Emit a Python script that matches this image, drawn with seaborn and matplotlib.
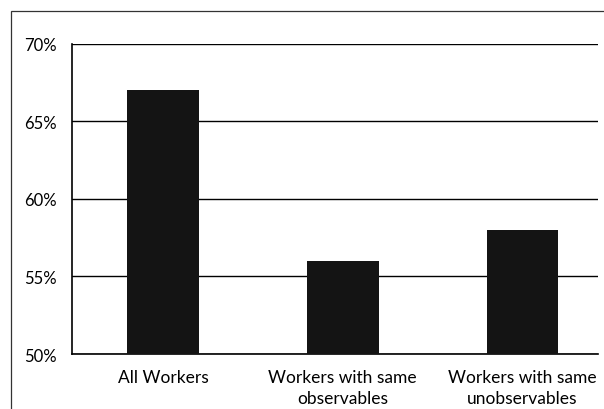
import numpy as np
import pandas as pd
import seaborn as sns
import matplotlib.pyplot as plt
from matplotlib.patches import Rectangle
from matplotlib.ticker import PercentFormatter

# data
categories = ['All Workers', 'Workers with same\nobservables', 'Workers with same\nunobservables']
shares = [0.67, 0.56, 0.58]
y_ticks = [0.50, 0.55, 0.60, 0.65, 0.70]

sns.set_theme(style="white")
plt.rcParams['font.family'] = ['Lato', 'DejaVu Sans']

df = pd.DataFrame({'group': categories, 'share': shares})

fig = plt.figure(figsize=(6.04, 4.10), dpi=100)
ax = fig.add_axes([0.1192, 0.1341, 0.8708, 0.757])

sns.barplot(data=df, x='group', y='share', color='#141414', width=0.40,
            saturation=1, edgecolor='#141414', linewidth=0, ax=ax, zorder=3)

ax.set_ylim(0.50, 0.70)
ax.set_xlim(-0.506, 2.42)
ax.set_yticks(y_ticks)
ax.yaxis.set_major_formatter(PercentFormatter(1.0, decimals=0))
ax.yaxis.grid(True, color='black', linewidth=1.0, zorder=0)
ax.set_axisbelow(True)
ax.set_xlabel('')
ax.set_ylabel('')

for side in ['top', 'right']:
    ax.spines[side].set_visible(False)
for side in ['left', 'bottom']:
    ax.spines[side].set_color('black')
    ax.spines[side].set_linewidth(1.2)

ax.tick_params(axis='both', length=0, colors='black')
ax.tick_params(axis='y', pad=11, labelsize=12)
ax.tick_params(axis='x', pad=11, labelsize=12.5)
for lbl in ax.get_xticklabels():
    lbl.set_linespacing(1.35)

# outer chart border (only left and top visible in the scan)
fig.patches.append(Rectangle((11 / 604, -0.1), 1.2, 1.1 - 12 / 410,
                             transform=fig.transFigure, fill=False,
                             edgecolor='#333333', linewidth=0.9))

plt.savefig('out.png', dpi=100)
